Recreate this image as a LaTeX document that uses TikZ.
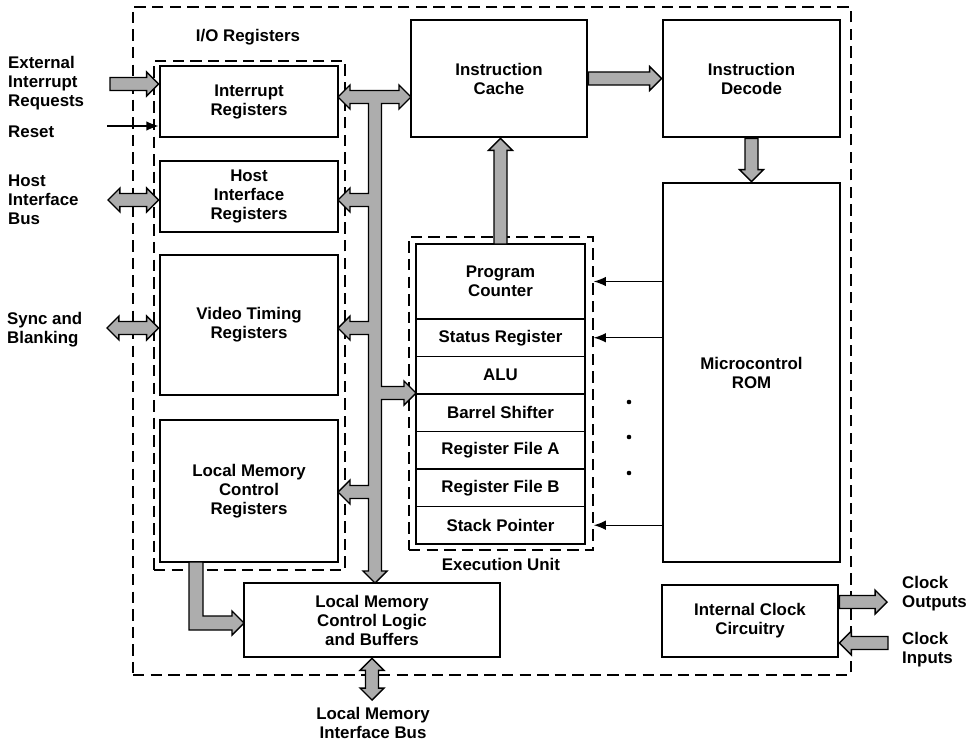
\documentclass[tikz,border=0pt]{standalone}
\usepackage{fontspec}
\setmainfont{Liberation Sans}
\usetikzlibrary{positioning, calc, arrows.meta}
\definecolor{busgray}{gray}{0.68}
\def\shaftw{3.7pt}
\def\headw{6.8pt}
\def\headl{6.8pt}
\tikzstyle{block} = [rectangle, draw=black, line width=1.6pt, align=center]
\tikzstyle{group} = [rectangle, draw=black, line width=0.8pt, dash pattern=on 6.5pt off 3.5pt]
\tikzstyle{row} = [rectangle, draw=black, line width=0.7pt, minimum width=3.38cm, minimum height=0.75cm, inner sep=0pt, outer sep=0pt]
\tikzstyle{wire} = [-{Latex[length=7pt,width=5.5pt]}, line width=0.8pt]
\tikzstyle{busfill} = [draw=black, line width=0.8pt, fill=busgray]
\tikzstyle{fat} = [busfill, to path={let \p1=(\tikztostart), \p2=(\tikztotarget),
    \n1={veclen(\x2-\x1,\y2-\y1)}, \n2={(\x2-\x1)/\n1}, \n3={(\y2-\y1)/\n1} in
    ({\x1-(\n3)*\shaftw},{\y1+(\n2)*\shaftw})
 -- ({\x2-(\n2)*\headl-(\n3)*\shaftw},{\y2-(\n3)*\headl+(\n2)*\shaftw})
 -- ({\x2-(\n2)*\headl-(\n3)*\headw},{\y2-(\n3)*\headl+(\n2)*\headw})
 -- (\p2)
 -- ({\x2-(\n2)*\headl+(\n3)*\headw},{\y2-(\n3)*\headl-(\n2)*\headw})
 -- ({\x2-(\n2)*\headl+(\n3)*\shaftw},{\y2-(\n3)*\headl-(\n2)*\shaftw})
 -- ({\x1+(\n3)*\shaftw},{\y1-(\n2)*\shaftw}) -- cycle}]
\tikzstyle{fatboth} = [busfill, to path={let \p1=(\tikztostart), \p2=(\tikztotarget),
    \n1={veclen(\x2-\x1,\y2-\y1)}, \n2={(\x2-\x1)/\n1}, \n3={(\y2-\y1)/\n1} in
    (\p1)
 -- ({\x1+(\n2)*\headl-(\n3)*\headw},{\y1+(\n3)*\headl+(\n2)*\headw})
 -- ({\x1+(\n2)*\headl-(\n3)*\shaftw},{\y1+(\n3)*\headl+(\n2)*\shaftw})
 -- ({\x2-(\n2)*\headl-(\n3)*\shaftw},{\y2-(\n3)*\headl+(\n2)*\shaftw})
 -- ({\x2-(\n2)*\headl-(\n3)*\headw},{\y2-(\n3)*\headl+(\n2)*\headw})
 -- (\p2)
 -- ({\x2-(\n2)*\headl+(\n3)*\headw},{\y2-(\n3)*\headl-(\n2)*\headw})
 -- ({\x2-(\n2)*\headl+(\n3)*\shaftw},{\y2-(\n3)*\headl-(\n2)*\shaftw})
 -- ({\x1+(\n2)*\headl+(\n3)*\shaftw},{\y1+(\n3)*\headl-(\n2)*\shaftw})
 -- ({\x1+(\n2)*\headl+(\n3)*\headw},{\y1+(\n3)*\headl-(\n2)*\headw}) -- cycle}]

\begin{document}
\begin{tikzpicture}[x=0.02cm, y=-0.02cm, every node/.style={font=\bfseries\fontsize{9.6}{10.8}\selectfont}]
        \useasboundingbox (0,0) rectangle (970,740);

        \node[group, minimum width=14.36cm, minimum height=13.36cm] (chip) at (492,341) {};
        \node[group, minimum width=3.82cm, minimum height=10.18cm] (iobox) at (249.5,315.5) {};
        \node[group, minimum width=3.68cm, minimum height=6.26cm] (execunit) at (501,393.5) {};
        \node (iolabel) at (248,37) {I/O Registers};
        \node[below=1pt of execunit] (execlabel) {Execution Unit};

        \node[block, minimum width=3.56cm, minimum height=1.42cm] (intreg) at (249,101.5) {Interrupt\\Registers};
        \node[block, minimum width=3.56cm, minimum height=1.42cm] (hostreg) at (249,196.5) {Host\\Interface\\Registers};
        \node[block, minimum width=3.56cm, minimum height=2.8cm] (videoreg) at (249,325) {Video Timing\\Registers};
        \node[block, minimum width=3.56cm, minimum height=2.84cm] (lmcreg) at (249,491) {Local Memory\\Control\\Registers};
        \node[block, minimum width=3.52cm, minimum height=2.34cm] (cache) at (499,78.5) {Instruction\\Cache};
        \node[block, minimum width=3.54cm, minimum height=2.34cm] (decode) at (751.5,78.5) {Instruction\\Decode};
        \node[block, minimum width=3.54cm, minimum height=7.58cm] (rom) at (751.5,372.5) {Microcontrol\\ROM};
        \node[block, minimum width=5.12cm, minimum height=1.48cm] (lmclb) at (372,620) {Local Memory\\Control Logic\\and Buffers};
        \node[block, minimum width=3.52cm, minimum height=1.44cm] (clock) at (750,621) {Internal Clock\\Circuitry};

        \node[row, minimum height=1.5cm, align=center] (pc) at (500.5,281.5) {Program\\Counter};
        \node[row, below=0pt of pc] (status) {Status Register};
        \node[row, below=0pt of status] (alu) {ALU};
        \node[row, below=0pt of alu] (shifter) {Barrel Shifter};
        \node[row, below=0pt of shifter] (rfa) {Register File A};
        \node[row, below=0pt of rfa] (rfb) {Register File B};
        \node[row, below=0pt of rfb] (sp) {Stack Pointer};
        \draw[line width=1.6pt] (pc.north west) rectangle (sp.south east);

        \node[anchor=west, align=left] (extlabel) at (2,83) {External\\Interrupt\\Requests};
        \node[anchor=west] (resetlabel) at (2,132) {Reset};
        \node[anchor=west, align=left] (hostlabel) at (2,200) {Host\\Interface\\Bus};
        \node[anchor=west, align=left] (synclabel) at (1,330) {Sync and\\Blanking};
        \node[align=center] (lmbuslabel) at (373,723) {Local Memory\\Interface Bus};
        \node[anchor=west, align=left] (clkoutlabel) at (896,594) {Clock\\Outputs};
        \node[anchor=west, align=left] (clkinlabel) at (896,650) {Clock\\Inputs};

        \coordinate (extin) at (110,84);
        \coordinate (rst) at (107,126);
        \coordinate (hostbus) at (108,200);
        \coordinate (sync) at (107,328);
        \coordinate (lmbus) at (372,700);
        \coordinate (clkout) at (887,602);
        \coordinate (clkin) at (888,643);

        \draw[fat] (extin) to (intreg.west |- extin);
        \draw[wire] (rst) -- (intreg.west |- rst);
        \draw[fatboth] (hostbus) to (hostreg.west |- hostbus);
        \draw[fatboth] (sync) to (videoreg.west |- sync);
        \draw[fat] (cache.east) to (decode.west);
        \draw[fat] (decode.south) to (rom.north);
        \draw[fat] (pc.north) to (pc.north |- cache.south);
        \draw[fatboth] (lmclb.south) to (lmbus);
        \draw[fat] (clock.east |- clkout) to (clkout);
        \draw[fat] (clkin) to (clock.east |- clkin);

        \draw[busfill] (338,97) -- (350,85) -- (350,90.5) -- (399,90.5) -- (399,85) -- (411,97) -- (399,109) -- (399,103.5)
            -- (381.5,103.5) -- (381.5,386.5) -- (404,386.5) -- (404,381) -- (416,393) -- (404,405) -- (404,399.5)
            -- (381.5,399.5) -- (381.5,571) -- (387,571) -- (375,583) -- (363,571) -- (368.5,571)
            -- (368.5,498.5) -- (350,498.5) -- (350,504) -- (338,492) -- (350,480) -- (350,485.5)
            -- (368.5,485.5) -- (368.5,334.5) -- (350,334.5) -- (350,340) -- (338,328) -- (350,316) -- (350,321.5)
            -- (368.5,321.5) -- (368.5,206.5) -- (350,206.5) -- (350,212) -- (338,200) -- (350,188) -- (350,193.5)
            -- (368.5,193.5) -- (368.5,103.5) -- (350,103.5) -- (350,109) -- cycle;
        \draw[busfill] (189,562) -- (189,630) -- (232,630) -- (232,635) -- (244,623) -- (232,611) -- (232,616)
            -- (203,616) -- (203,562) -- cycle;

        \foreach \r in {pc,status,sp}
        {\draw[wire] (rom.west |- \r) -- (execunit.east |- \r);}
        \foreach \j in {402,437,473}
        {\fill (629,\j) circle (1.3pt);}
\end{tikzpicture}
\end{document}
